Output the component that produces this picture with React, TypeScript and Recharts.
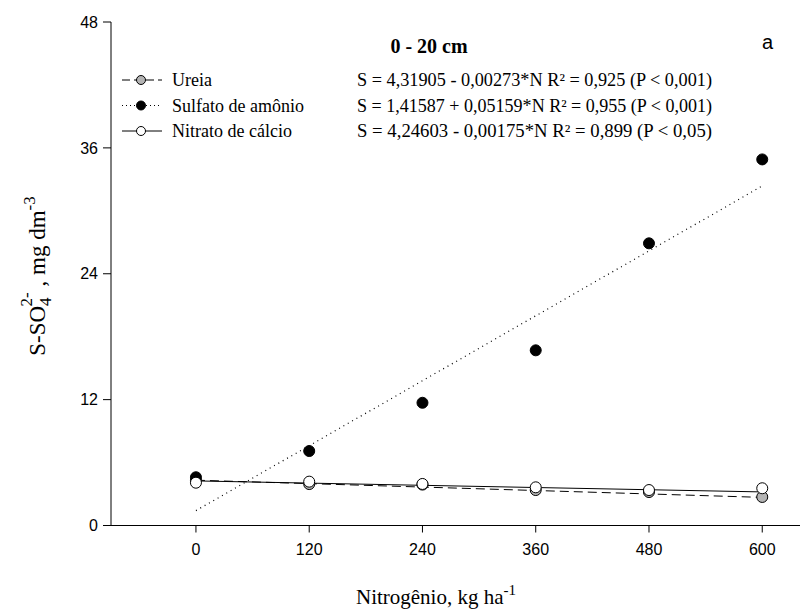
import { ComposedChart, Line, Scatter, XAxis, YAxis } from "recharts";

// Values
const nitrogen = [0, 120, 240, 360, 480, 600];
const ureia = [4.3, 3.95, 3.9, 3.38, 3.19, 2.72];
const sulfato = [4.6, 7.1, 11.7, 16.7, 26.9, 34.9];
const nitrato = [4.08, 4.18, 3.96, 3.64, 3.38, 3.55];

// fitted lines, read at both ends (N = 0 and N = 600)
const fitN = [0, 600];
const ureiaFit = [4.32, 2.68];
const sulfatoFit = [1.42, 32.37];
const nitratoFit = [4.25, 3.2];

const xTicks = [0, 120, 240, 360, 480, 600];
const yTicks = [0, 12, 24, 36, 48];

const legendRows = [
  { name: "Ureia", eq: "S = 4,31905 - 0,00273*N  R² = 0,925 (P < 0,001)", fill: "#b4b4b4", dash: "8 4" },
  { name: "Sulfato de amônio", eq: "S = 1,41587 + 0,05159*N  R² = 0,955 (P < 0,001)", fill: "#000", dash: "1 3" },
  { name: "Nitrato de cálcio", eq: "S = 4,24603 - 0,00175*N  R² = 0,899 (P < 0,05)", fill: "#fff", dash: undefined },
];

const SERIF = "'Liberation Serif', 'Times New Roman', serif";
const SANS = "'Liberation Sans', Arial, sans-serif";

const toPoints = (xs: number[], ys: number[]) => xs.map((x, i) => ({ x, y: ys[i] }));

const dot = (fill: string) => (props: any) => (
  <circle cx={props.cx} cy={props.cy} r={5.5} fill={fill} stroke="#000" strokeWidth={1} />
);

const tickStyle = { fontFamily: SANS, fontSize: 16, fill: "#000" };

export default function App() {
  return (
    <div style={{ position: "absolute", left: 0, top: 0, width: 800, height: 615, background: "#fff" }}>
      <ComposedChart width={800} height={615} margin={{ top: 22, right: 0, bottom: 49.5, left: 51 }}>
        <XAxis
          type="number"
          dataKey="x"
          domain={[-90, 640]}
          ticks={xTicks}
          tickSize={7}
          tickMargin={11}
          tick={tickStyle}
          stroke="#000"
          height={40}
          allowDataOverflow
        />
        <YAxis
          type="number"
          domain={[0, 48]}
          ticks={yTicks}
          tickSize={8}
          tickMargin={5}
          tick={tickStyle}
          stroke="#000"
          width={60}
        />
        <Line data={toPoints(fitN, ureiaFit)} dataKey="y" stroke="#000" strokeWidth={1} strokeDasharray="9 5" dot={false} isAnimationActive={false} />
        <Line data={toPoints(fitN, sulfatoFit)} dataKey="y" stroke="#000" strokeWidth={1.2} strokeDasharray="1 4" dot={false} isAnimationActive={false} />
        <Line data={toPoints(fitN, nitratoFit)} dataKey="y" stroke="#000" strokeWidth={1} dot={false} isAnimationActive={false} />
        <Scatter data={toPoints(nitrogen, ureia)} dataKey="y" shape={dot("#b4b4b4")} isAnimationActive={false} />
        <Scatter data={toPoints(nitrogen, sulfato)} dataKey="y" shape={dot("#000")} isAnimationActive={false} />
        <Scatter data={toPoints(nitrogen, nitrato)} dataKey="y" shape={dot("#fff")} isAnimationActive={false} />
      </ComposedChart>

      <svg width={800} height={615} style={{ position: "absolute", left: 0, top: 0, pointerEvents: "none" }}>
        <text x={429} y={53} textAnchor="middle" fontFamily={SERIF} fontSize={20} fontWeight="bold">0 - 20 cm</text>
        <text x={762} y={49} fontFamily={SANS} fontSize={20}>a</text>
        {legendRows.map((r, i) => {
          const cy = 80 + i * 25.5;
          return (
            <g key={r.name}>
              <line x1={122} x2={162} y1={cy} y2={cy} stroke="#000" strokeWidth={1} strokeDasharray={r.dash} />
              <circle cx={141} cy={cy} r={4.5} fill={r.fill} stroke="#000" strokeWidth={1} />
              <text x={172} y={cy + 6} fontFamily={SERIF} fontSize={18}>{r.name}</text>
              <text x={357} y={cy + 6} fontFamily={SERIF} fontSize={18} textLength={355} lengthAdjust="spacingAndGlyphs">{r.eq}</text>
            </g>
          );
        })}
        <text transform="translate(45 276) rotate(-90)" textAnchor="middle" fontFamily={SERIF} fontSize={23}>
          S-SO<tspan dy={6} fontSize={17}>4</tspan><tspan dx={-9} dy={-19} fontSize={17}>2-</tspan><tspan dy={13}> , mg dm</tspan><tspan dy={-10} fontSize={17}>-3</tspan>
        </text>
        <text x={436} y={604} textAnchor="middle" fontFamily={SERIF} fontSize={21}>
          Nitrogênio, kg ha<tspan dy={-9} fontSize={15}>-1</tspan>
        </text>
      </svg>
    </div>
  );
}
